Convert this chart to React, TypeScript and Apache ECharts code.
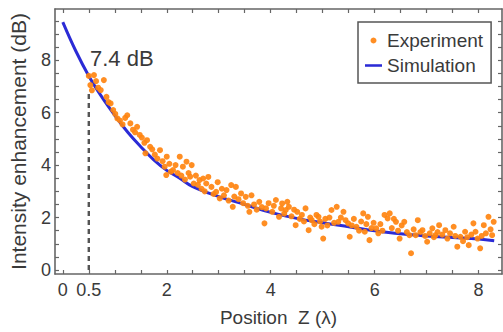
import React, { useEffect, useRef } from "react";
import * as echarts from "echarts";

// Simulation curve
const simX = [0, 0.25, 0.5, 0.75, 1.0, 1.25, 1.5, 1.75, 2.0, 2.25, 2.5, 3.0, 3.5, 4.0, 4.5, 5.0, 5.5, 6.0, 6.5, 7.0, 7.5, 8.0, 8.3];
const simY = [9.45, 8.35, 7.4, 6.6, 5.9, 5.25, 4.7, 4.2, 3.8, 3.5, 3.18, 2.8, 2.5, 2.2, 1.97, 1.8, 1.65, 1.5, 1.38, 1.3, 1.24, 1.18, 1.12];

// Experiment points
const expX = [
  0.50, 0.53, 0.56, 0.60, 0.64, 0.68, 0.73, 0.79, 0.84, 0.88, 0.92, 0.97, 1.01, 1.05, 1.10, 1.15, 1.20, 1.24, 1.30, 1.35,
  1.39, 1.43, 1.48, 1.52, 1.57, 1.59, 1.62, 1.68, 1.72, 1.77, 1.82, 1.87, 1.92, 1.96, 1.99, 2.00, 2.05, 2.08, 2.12, 2.17,
  2.21, 2.25, 2.28, 2.31, 2.35, 2.38, 2.42, 2.45, 2.48, 2.52, 2.56, 2.60, 2.63, 2.67, 2.70, 2.73, 2.76, 2.80, 2.86, 2.90,
  2.95, 2.98, 3.02, 3.06, 3.10, 3.15, 3.19, 3.24, 3.27, 3.30, 3.33, 3.38, 3.43, 3.47, 3.52, 3.56, 3.59, 3.63, 3.68, 3.73,
  3.78, 3.83, 3.88, 3.91, 3.96, 4.03, 4.06, 4.10, 4.16, 4.20, 4.22, 4.26, 4.29, 4.32, 4.35, 4.40, 4.45, 4.48, 4.51, 4.56,
  4.60, 4.64, 4.67, 4.73, 4.76, 4.79, 4.84, 4.88, 4.92, 4.95, 4.98, 5.01, 5.05, 5.09, 5.13, 5.17, 5.22, 5.27, 5.30, 5.35,
  5.40, 5.44, 5.49, 5.52, 5.56, 5.60, 5.65, 5.70, 5.74, 5.78, 5.81, 5.84, 5.87, 5.90, 5.94, 5.98, 6.03, 6.07, 6.11, 6.15,
  6.19, 6.25, 6.29, 6.33, 6.37, 6.41, 6.45, 6.48, 6.52, 6.57, 6.62, 6.67, 6.70, 6.75, 6.79, 6.83, 6.88, 6.92, 6.97, 7.01,
  7.06, 7.11, 7.14, 7.17, 7.21, 7.24, 7.30, 7.36, 7.40, 7.45, 7.52, 7.55, 7.59, 7.65, 7.70, 7.74, 7.78, 7.81, 7.86, 7.90,
  7.94, 7.98, 8.03, 8.06, 8.10, 8.14, 8.19, 8.23, 8.26, 8.29,
];
const expY = [
  7.40, 7.05, 6.85, 7.43, 7.20, 6.95, 6.86, 7.24, 6.60, 6.40, 6.35, 6.10, 5.95, 5.78, 5.70, 5.55, 5.80, 5.90, 5.59, 5.35,
  5.25, 5.46, 5.15, 5.05, 4.85, 4.45, 4.95, 4.70, 4.60, 4.40, 4.25, 4.57, 4.15, 3.94, 3.62, 4.32, 4.05, 3.75, 3.81, 4.00,
  3.70, 4.32, 3.60, 3.94, 3.45, 4.13, 3.70, 3.56, 4.00, 3.30, 3.60, 3.25, 3.43, 3.10, 3.49, 3.00, 3.30, 3.55, 3.17, 2.90,
  2.98, 3.35, 2.73, 3.10, 2.85, 3.05, 2.65, 3.24, 2.41, 2.80, 3.17, 2.70, 2.92, 2.55, 2.79, 2.45, 2.22, 2.85, 2.50, 2.30,
  2.60, 2.40, 1.78, 2.35, 2.55, 2.22, 2.45, 2.67, 2.03, 2.35, 2.54, 2.15, 2.29, 2.60, 2.41, 2.05, 2.30, 1.71, 2.22, 1.95,
  2.10, 1.85, 2.35, 1.52, 2.00, 1.90, 1.75, 2.10, 2.03, 1.85, 1.65, 1.20, 1.95, 1.70, 2.00, 2.29, 1.80, 2.41, 1.84, 2.00,
  2.22, 1.90, 1.78, 1.27, 1.70, 1.95, 1.65, 1.50, 1.85, 2.16, 1.46, 1.75, 2.03, 1.14, 1.60, 1.80, 1.59, 1.40, 1.75, 1.50,
  2.10, 1.97, 2.16, 1.60, 1.95, 1.84, 1.50, 1.20, 1.70, 1.84, 1.45, 1.33, 0.64, 1.55, 1.33, 1.90, 1.45, 1.52, 1.30, 1.08,
  1.40, 1.59, 1.25, 1.33, 1.45, 1.71, 1.35, 1.52, 1.20, 1.40, 1.65, 1.30, 0.89, 1.27, 1.10, 1.46, 1.25, 0.95, 1.35, 1.78,
  1.46, 1.20, 0.83, 1.30, 1.71, 1.40, 2.03, 1.55, 1.33, 1.84,
];

// Axis ticks and labels
const xTickLabels = [0, 0.5, 2, 4, 6, 8];
const xTickMarks = [0, 0.5, 1, 1.5, 2, 2.5, 3, 3.5, 4, 4.5, 5, 5.5, 6, 6.5, 7, 7.5, 8];
const yTickLabels = [0, 2, 4, 6, 8];
const yTickMarks = [0, 0.5, 1, 1.5, 2, 2.5, 3, 3.5, 4, 4.5, 5, 5.5, 6, 6.5, 7, 7.5, 8, 8.5, 9, 9.5];

// Annotation
const markerX = 0.5;
const markerBottom = 0;
const markerTop = 6.75;
const markerText = "7.4 dB";

const FONT = "'Liberation Sans', Arial, Helvetica, sans-serif";
const FRAME = "#666";
const TEXT = "#3a3a3a";

export default function App() {
  const ref = useRef<HTMLDivElement>(null);
  useEffect(() => {
    const chart = echarts.init(ref.current!, undefined, { renderer: "svg" });
    const frameLine = { show: true, onZero: false, lineStyle: { color: FRAME, width: 1.6 } };
    const tickStyle = { color: FRAME, width: 1.2 };
    chart.setOption({
      animation: false,
      backgroundColor: "#fff",
      textStyle: { fontFamily: FONT },
      grid: { left: 50, right: 1, top: 9, bottom: 58, containLabel: false },
      legend: {
        data: [
          { name: "Experiment", icon: "circle" },
          { name: "Simulation", icon: "path://M0,0H20V3H0Z" },
        ],
        orient: "vertical",
        left: 358,
        top: 22,
        itemWidth: 17,
        itemHeight: 6,
        itemGap: 6,
        padding: [9, 8, 8, 7],
        borderColor: "#555",
        borderWidth: 1.5,
        backgroundColor: "#fff",
        textStyle: { fontSize: 19, color: TEXT, fontFamily: FONT },
      },
      xAxis: [
        {
          type: "value",
          min: -0.15,
          max: 8.45,
          position: "bottom",
          name: "Position  Z (λ)",
          nameLocation: "middle",
          nameGap: 34,
          nameTextStyle: { fontSize: 19, color: TEXT, fontFamily: FONT },
          axisLine: frameLine,
          axisTick: { show: true, inside: true, length: 4, customValues: xTickMarks, lineStyle: tickStyle },
          axisLabel: {
            show: true,
            customValues: xTickLabels,
            fontSize: 18,
            color: TEXT,
            margin: 7,
            fontFamily: FONT,
            formatter: (v: number) => String(v),
          },
          splitLine: { show: false },
        },
        {
          type: "value",
          min: -0.15,
          max: 8.45,
          position: "top",
          axisLine: frameLine,
          axisTick: { show: true, inside: true, length: 4, customValues: xTickMarks, lineStyle: tickStyle },
          axisLabel: { show: false },
          splitLine: { show: false },
        },
      ],
      yAxis: [
        {
          type: "value",
          min: -0.15,
          max: 9.95,
          position: "left",
          name: "Intensity enhancement (dB)",
          nameLocation: "middle",
          nameRotate: 90,
          nameGap: 26,
          nameTextStyle: { fontSize: 21, color: TEXT, fontFamily: FONT },
          axisLine: frameLine,
          axisTick: { show: true, inside: true, length: 4, customValues: yTickMarks, lineStyle: tickStyle },
          axisLabel: {
            show: true,
            customValues: yTickLabels,
            fontSize: 18,
            color: TEXT,
            margin: 4,
            fontFamily: FONT,
            formatter: (v: number) => String(v),
          },
          splitLine: { show: false },
        },
        {
          type: "value",
          min: -0.15,
          max: 9.95,
          position: "right",
          axisLine: frameLine,
          axisTick: { show: true, inside: true, length: 4, customValues: yTickMarks, lineStyle: tickStyle },
          axisLabel: { show: false },
          splitLine: { show: false },
        },
      ],
      series: [
        {
          name: "Marker",
          type: "line",
          xAxisIndex: 0,
          yAxisIndex: 0,
          data: [
            [markerX, markerBottom],
            [markerX, markerTop],
          ],
          symbol: "none",
          lineStyle: { color: "#555", width: 2.4, type: [5, 4] },
          silent: true,
          z: 1,
        },
        {
          name: "Simulation",
          type: "line",
          xAxisIndex: 0,
          yAxisIndex: 0,
          data: simX.map((x, i) => [x, simY[i]]),
          smooth: 0.4,
          symbol: "none",
          lineStyle: { color: "#2b2bd6", width: 3 },
          itemStyle: { color: "#2b2bd6" },
          z: 2,
        },
        {
          name: "Experiment",
          type: "scatter",
          xAxisIndex: 0,
          yAxisIndex: 0,
          data: expX.map((x, i) => [x, expY[i]]),
          symbolSize: 6,
          itemStyle: { color: "#ff8410", opacity: 0.92 },
          z: 3,
        },
      ],
      graphic: [
        {
          type: "text",
          left: 90,
          top: 47,
          style: { text: markerText, fontSize: 22, fill: TEXT, fontFamily: FONT },
          z: 10,
        },
      ],
    });
    return () => chart.dispose();
  }, []);
  return <div ref={ref} style={{ position: "fixed", left: 0, top: 0, width: 503, height: 332 }} />;
}
